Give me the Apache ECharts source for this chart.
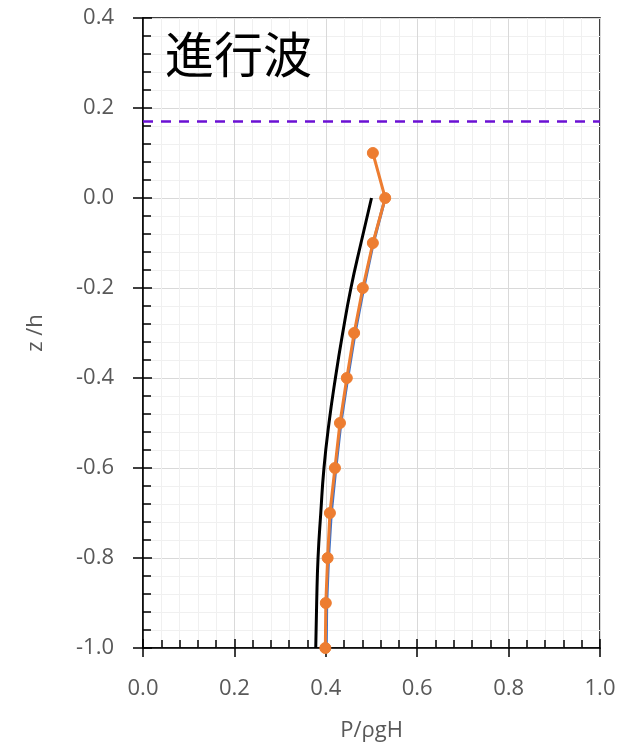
<!DOCTYPE html>
<html>
<head>
<meta charset="utf-8">
<script src="https://cdn.jsdelivr.net/npm/echarts@6/dist/echarts.min.js"></script>
<style>html,body{margin:0;padding:0;background:#fff;}#c{width:624px;height:748px;}</style>
</head>
<body>
<div id="c"></div>
<script>
// data
var zMeasured = [0.1, 0.0, -0.1, -0.2, -0.3, -0.4, -0.5, -0.6, -0.7, -0.8, -0.9, -1.0];
var pOrange = [0.503, 0.530, 0.503, 0.481, 0.462, 0.446, 0.431, 0.420, 0.409, 0.404, 0.400, 0.399];
var zBlue = [0.0, -0.1, -0.2, -0.3, -0.4, -0.5, -0.6, -0.7, -0.8, -0.9, -1.0];
var pBlue = [0.530, 0.504, 0.483, 0.464, 0.448, 0.433, 0.422, 0.412, 0.406, 0.402, 0.401];
var zTheory = [0.0, -0.1, -0.2, -0.3, -0.4, -0.5, -0.6, -0.7, -0.8, -0.9, -1.0];
var pTheory = [0.500, 0.477, 0.455, 0.437, 0.421, 0.407, 0.396, 0.389, 0.383, 0.380, 0.378];
var crestX = [0, 1];
var crestZ = [0.17, 0.17];
var xTicks = ['0.0', '0.2', '0.4', '0.6', '0.8', '1.0'];
var titleText = '進行波';
var xName = 'P/ρgH';
var yName = 'z /h';

function pairs(xs, ys) { return xs.map(function (x, i) { return [x, ys[i]]; }); }

var chart = echarts.init(document.getElementById('c'), null, {renderer: 'canvas'});
var labelFont = {fontSize: 22, color: '#595959', fontFamily: 'Open Sans'};
var grid = {left: 143, top: 18, width: 457, height: 630, show: true, borderColor: '#000', borderWidth: 1.5, containLabel: false};

chart.setOption({
  animation: false,
  backgroundColor: '#fff',
  grid: grid,
  title: {text: titleText, left: 165, top: 30, padding: 0,
          textStyle: {fontSize: 49, fontWeight: 'normal', color: '#000', fontFamily: 'Noto Sans CJK JP'}},
  xAxis: [
    {type: 'value', min: 0, max: 1, interval: 0.2, position: 'bottom',
     axisLine: {show: true, onZero: false, lineStyle: {color: '#000', width: 1.5}},
     axisTick: {show: true, inside: false, length: 9, lineStyle: {color: '#000', width: 1.5}},
     minorTick: {show: false},
     axisLabel: Object.assign({margin: 30, formatter: function (v) { return xTicks[Math.round(v / 0.2)]; }}, labelFont),
     splitLine: {show: true, lineStyle: {color: '#d9d9d9', width: 1}},
     minorSplitLine: {show: true, lineStyle: {color: '#f0f0f0', width: 1}},
     name: xName, nameLocation: 'middle', nameGap: 72, nameTextStyle: labelFont},
    {type: 'value', min: 0, max: 1, interval: 0.2, position: 'bottom',
     axisLine: {show: false, onZero: false},
     axisTick: {show: true, inside: true, length: 9, lineStyle: {color: '#000', width: 1.5}},
     minorTick: {show: true, splitNumber: 5, length: 8, lineStyle: {color: '#000', width: 1.5}},
     axisLabel: {show: false}, splitLine: {show: false}}
  ],
  yAxis: [
    {type: 'value', min: -1, max: 0.4, interval: 0.2, position: 'left',
     axisLine: {show: true, onZero: false, lineStyle: {color: '#000', width: 1.5}},
     axisTick: {show: true, inside: false, length: 10, lineStyle: {color: '#000', width: 1.5}},
     axisLabel: Object.assign({margin: 29, formatter: function (v) { return v.toFixed(1); }}, labelFont),
     splitLine: {show: true, lineStyle: {color: '#d9d9d9', width: 1}},
     minorTick: {show: false},
     minorSplitLine: {show: true, lineStyle: {color: '#f0f0f0', width: 1}},
     name: yName, nameLocation: 'middle', nameGap: 96, nameRotate: 90, nameTextStyle: labelFont},
    {type: 'value', min: -1, max: 0.4, interval: 0.2, position: 'left',
     axisLine: {show: false, onZero: false},
     axisTick: {show: true, inside: true, length: 9, lineStyle: {color: '#000', width: 1.5}},
     minorTick: {show: true, splitNumber: 5, length: 8, lineStyle: {color: '#000', width: 1.5}},
     axisLabel: {show: false}, splitLine: {show: false}}
  ],
  series: [
    {type: 'line', data: pairs(crestX, crestZ), showSymbol: false, symbol: 'none',
     lineStyle: {color: '#6B10D4', width: 2.5, type: [10, 8]}, z: 3},
    {type: 'line', data: pairs(pTheory, zTheory), showSymbol: false, symbol: 'none', smooth: true,
     lineStyle: {color: '#000', width: 3}, z: 4},
    {type: 'line', data: pairs(pBlue, zBlue), showSymbol: false, symbol: 'none',
     lineStyle: {color: '#4472C4', width: 3}, z: 5},
    {type: 'line', data: pairs(pOrange, zMeasured), symbol: 'circle', symbolSize: 11, showSymbol: true,
     itemStyle: {color: '#ED7D31', borderColor: '#ED7D31'},
     lineStyle: {color: '#ED7D31', width: 3}, z: 6}
  ]
});
</script>
</body>
</html>
